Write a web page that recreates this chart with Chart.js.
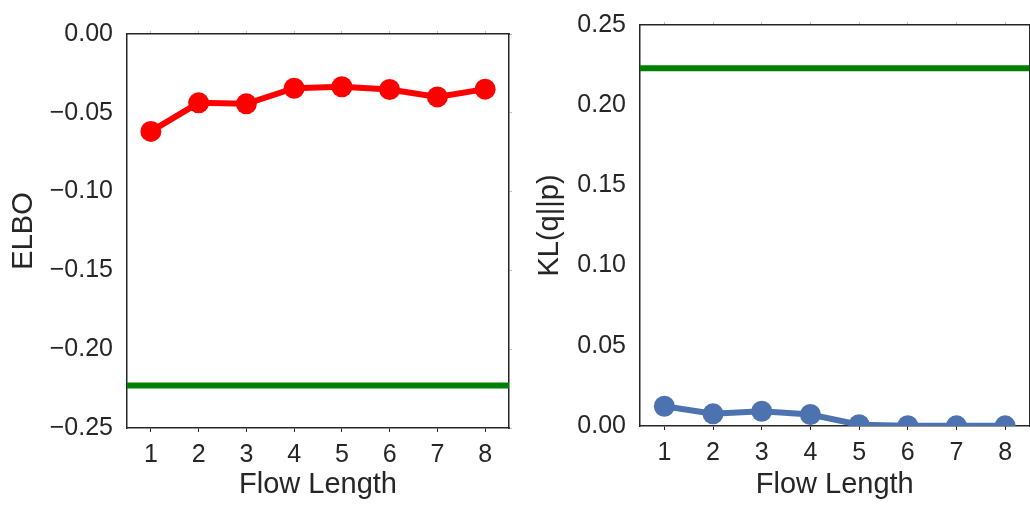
<!DOCTYPE html>
<html>
<head>
<meta charset="utf-8">
<script src="https://cdn.jsdelivr.net/npm/chart.js@4.4.0/dist/chart.umd.min.js"></script>
<style>
  html, body { margin: 0; padding: 0; background: #fff; overflow: hidden; }
  #wrap { position: relative; width: 1030px; height: 506px; overflow: hidden; }
  .box { position: absolute; top: 0; height: 506px; }
  #leftBox { left: 0; width: 520px; }
  #rightBox { left: 520px; width: 520px; }
</style>
</head>
<body>
<div id="wrap">
  <div class="box" id="leftBox"><canvas id="elboChart"></canvas></div>
  <div class="box" id="rightBox"><canvas id="klChart"></canvas></div>
</div>
<script>
// data
const flowLengths = [1, 2, 3, 4, 5, 6, 7, 8];
const elboValues = [-0.0618, -0.0437, -0.0443, -0.0344, -0.0335, -0.0352, -0.0399, -0.035];
const klValues = [0.0123, 0.0076, 0.0092, 0.0072, 0.0008, 0.0002, 0.0001, 0.0001];
const elboBaseline = -0.223;
const klBaseline = 0.2231;
const xRange = [0.5, 8.5];
const elboTicks = [0, -0.05, -0.10, -0.15, -0.20, -0.25];
const klTicks = [0, 0.05, 0.10, 0.15, 0.20, 0.25];

const TEXT = '#262626';
const FONT = 'Liberation Sans, Arial, sans-serif';

Chart.defaults.font.family = FONT;
Chart.defaults.color = TEXT;
Chart.defaults.animation = false;

function fmt(v) {
    const s = Math.abs(v).toFixed(2);
    return v < -1e-9 ? '\u2212' + s : s;
}

function makeChart(canvasId, opts) {
    const ctx = document.getElementById(canvasId).getContext('2d');
    return new Chart(ctx, {
        type: 'line',
        data: {
            datasets: [
                {
                    data: flowLengths.map((x, i) => ({ x: x, y: opts.values[i] })),
                    borderColor: opts.color,
                    backgroundColor: opts.color,
                    borderWidth: 6,
                    pointRadius: 10.5,
                    pointBorderWidth: 0,
                    pointHoverRadius: 10.5,
                    clip: 0,
                    order: 1
                },
                {
                    data: xRange.map(x => ({ x: x, y: opts.baseline })),
                    borderColor: '#008000',
                    borderWidth: 6,
                    pointRadius: 0,
                    clip: 0,
                    order: 2
                }
            ]
        },
        options: {
            responsive: true,
            maintainAspectRatio: false,
            layout: { padding: 0 },
            plugins: { legend: { display: false }, tooltip: { enabled: false } },
            scales: {
                x: {
                    type: 'linear', position: 'bottom',
                    min: xRange[0], max: xRange[1],
                    afterBuildTicks: s => { s.ticks = flowLengths.map(v => ({ value: v })); },
                    ticks: { font: { size: 25 }, color: TEXT, padding: 8, callback: v => String(v) },
                    grid: { drawOnChartArea: false, tickLength: 4, color: TEXT, tickWidth: 1 },
                    border: { color: TEXT, width: 1.5 },
                    title: { display: true, text: 'Flow Length', font: { size: 29 }, color: TEXT, padding: { top: 3 } },
                    afterFit: s => { s.height = opts.bottomH; }
                },
                x2: {
                    type: 'linear', position: 'top',
                    min: xRange[0], max: xRange[1],
                    afterBuildTicks: s => { s.ticks = flowLengths.map(v => ({ value: v })); },
                    ticks: { display: false },
                    grid: { drawOnChartArea: false, tickLength: 3, color: '#bbbbbb' },
                    border: { color: TEXT, width: 1.5 },
                    afterFit: s => { s.height = opts.topH; }
                },
                y: {
                    type: 'linear', position: 'left',
                    min: opts.min, max: opts.max,
                    afterBuildTicks: s => { s.ticks = opts.ticks.map(v => ({ value: v })); },
                    ticks: { font: { size: 25 }, color: TEXT, padding: 10, callback: v => fmt(v) },
                    grid: { drawOnChartArea: false, tickLength: 4, color: 'rgba(0,0,0,0)' },
                    border: { color: TEXT, width: 1.5 },
                    title: { display: true, text: opts.yTitle, font: { size: 29 }, color: TEXT, padding: { top: opts.titlePad, bottom: 0 } },
                    afterFit: s => { s.width = opts.leftW; }
                },
                y2: {
                    type: 'linear', position: 'right',
                    min: opts.min, max: opts.max,
                    afterBuildTicks: s => { s.ticks = opts.ticks.map(v => ({ value: v })); },
                    ticks: { display: false },
                    grid: { drawOnChartArea: false, tickLength: 3, color: '#bbbbbb' },
                    border: { color: TEXT, width: 1.5 },
                    afterFit: s => { s.width = opts.rightW; }
                }
            }
        }
    });
}

// Left: ELBO vs flow length
makeChart('elboChart', {
    values: elboValues, baseline: elboBaseline, color: '#ff0000',
    min: -0.25, max: 0, ticks: elboTicks, yTitle: 'ELBO', titlePad: 7,
    leftW: 127, rightW: 11, topH: 34, bottomH: 78
});

// Right: KL(q||p) vs flow length
makeChart('klChart', {
    values: klValues, baseline: klBaseline, color: '#4c72b0',
    min: 0, max: 0.25, ticks: klTicks, yTitle: 'KL(q||p)', titlePad: 13,
    leftW: 120, rightW: 6, topH: 20, bottomH: 80
});
</script>
</body>
</html>
